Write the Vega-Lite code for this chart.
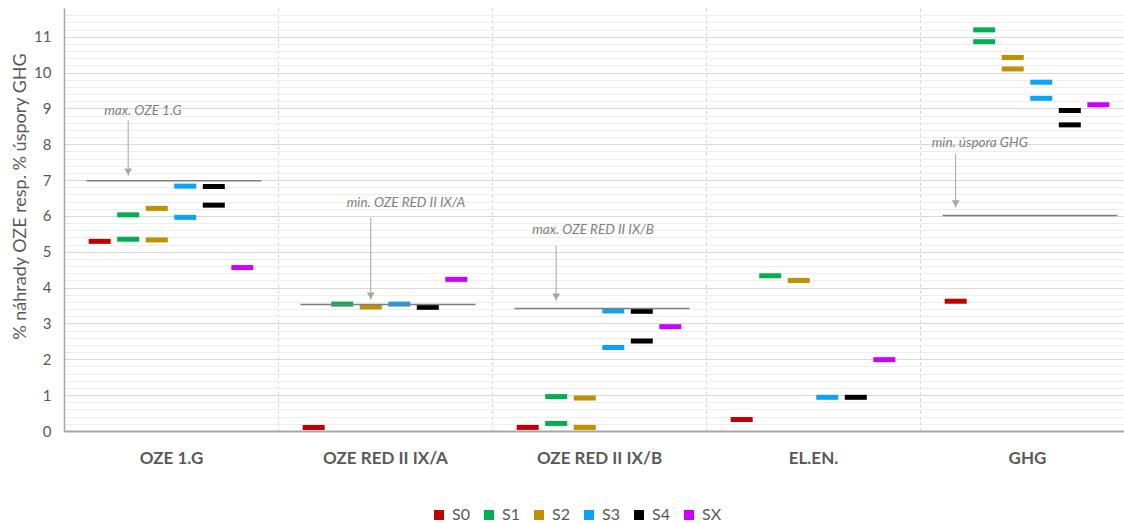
{
  "$schema": "https://vega.github.io/schema/vega-lite/v6.json",
  "width": 1060,
  "height": 423,
  "autosize": "none",
  "padding": {"left": 64, "top": 8, "right": 0, "bottom": 92},
  "background": "white",
  "config": {
    "view": {"stroke": null},
    "font": "Lato",
    "axis": {"labelFont": "Lato", "titleFont": "Lato"},
    "legend": {"labelFont": "Lato"}
  },
  "datasets": {
    "series": [
      {"cat": "OZE 1.G", "s": "S0", "v": 5.29},
      {"cat": "OZE 1.G", "s": "S1", "v": 6.03},
      {"cat": "OZE 1.G", "s": "S1", "v": 5.35},
      {"cat": "OZE 1.G", "s": "S2", "v": 6.21},
      {"cat": "OZE 1.G", "s": "S2", "v": 5.33},
      {"cat": "OZE 1.G", "s": "S3", "v": 6.83},
      {"cat": "OZE 1.G", "s": "S3", "v": 5.96},
      {"cat": "OZE 1.G", "s": "S4", "v": 6.82},
      {"cat": "OZE 1.G", "s": "S4", "v": 6.3},
      {"cat": "OZE 1.G", "s": "SX", "v": 4.56},
      {"cat": "OZE RED II IX/A", "s": "S0", "v": 0.1},
      {"cat": "OZE RED II IX/A", "s": "S1", "v": 3.54},
      {"cat": "OZE RED II IX/A", "s": "S2", "v": 3.46},
      {"cat": "OZE RED II IX/A", "s": "S3", "v": 3.54},
      {"cat": "OZE RED II IX/A", "s": "S4", "v": 3.45},
      {"cat": "OZE RED II IX/A", "s": "SX", "v": 4.23},
      {"cat": "OZE RED II IX/B", "s": "S0", "v": 0.1},
      {"cat": "OZE RED II IX/B", "s": "S1", "v": 0.96},
      {"cat": "OZE RED II IX/B", "s": "S1", "v": 0.21},
      {"cat": "OZE RED II IX/B", "s": "S2", "v": 0.92},
      {"cat": "OZE RED II IX/B", "s": "S2", "v": 0.1},
      {"cat": "OZE RED II IX/B", "s": "S3", "v": 3.35},
      {"cat": "OZE RED II IX/B", "s": "S3", "v": 2.33},
      {"cat": "OZE RED II IX/B", "s": "S4", "v": 3.34},
      {"cat": "OZE RED II IX/B", "s": "S4", "v": 2.51},
      {"cat": "OZE RED II IX/B", "s": "SX", "v": 2.91},
      {"cat": "EL.EN.", "s": "S0", "v": 0.32},
      {"cat": "EL.EN.", "s": "S1", "v": 4.33},
      {"cat": "EL.EN.", "s": "S2", "v": 4.2},
      {"cat": "EL.EN.", "s": "S3", "v": 0.94},
      {"cat": "EL.EN.", "s": "S4", "v": 0.94},
      {"cat": "EL.EN.", "s": "SX", "v": 1.99},
      {"cat": "GHG", "s": "S0", "v": 3.62},
      {"cat": "GHG", "s": "S1", "v": 11.19},
      {"cat": "GHG", "s": "S1", "v": 10.86},
      {"cat": "GHG", "s": "S2", "v": 10.42},
      {"cat": "GHG", "s": "S2", "v": 10.1},
      {"cat": "GHG", "s": "S3", "v": 9.73},
      {"cat": "GHG", "s": "S3", "v": 9.28},
      {"cat": "GHG", "s": "S4", "v": 8.94},
      {"cat": "GHG", "s": "S4", "v": 8.54},
      {"cat": "GHG", "s": "SX", "v": 9.1}
    ],
    "limits": [
      {"cat": "OZE 1.G", "limit": 6.98},
      {"cat": "OZE RED II IX/A", "limit": 3.53},
      {"cat": "OZE RED II IX/B", "limit": 3.42},
      {"cat": "GHG", "limit": 6.01}
    ],
    "notes": [
      {"cat": "OZE 1.G", "s": "S1", "label": "max. OZE 1.G", "ty": 8.94, "a1": 8.66, "a2": 7.12},
      {"cat": "OZE RED II IX/A", "s": "S2", "label": "min. OZE RED II IX/A", "ty": 6.37, "a1": 5.95, "a2": 3.66},
      {"cat": "OZE RED II IX/B", "s": "S1", "label": "max. OZE RED II IX/B", "ty": 5.61, "a1": 5.17, "a2": 3.63},
      {"cat": "GHG", "s": "S0", "label": "min. úspora GHG", "ty": 8.04, "a1": 7.74, "a2": 6.23}
    ]
  },
  "encoding": {
    "x": {
      "field": "cat",
      "type": "nominal",
      "sort": ["OZE 1.G", "OZE RED II IX/A", "OZE RED II IX/B", "EL.EN.", "GHG"],
      "scale": {"range": [0, 1070], "paddingInner": 0, "paddingOuter": 0},
      "axis": {
        "title": null,
        "labelAngle": 0,
        "labelFontSize": 17,
        "labelFontWeight": "bold",
        "labelColor": "#595959",
        "labelPadding": 19,
        "ticks": false,
        "tickBand": "extent",
        "grid": true,
        "gridColor": "#d0d0d0",
        "gridDash": [3, 3],
        "gridWidth": 1,
        "domainColor": "#a6a6a6",
        "domainWidth": 2
      }
    }
  },
  "layer": [
    {
      "data": {"name": "series"},
      "mark": {"type": "tick", "size": 22, "thickness": 5, "opacity": 1},
      "encoding": {
        "xOffset": {
          "field": "s",
          "type": "nominal",
          "sort": ["S0", "S1", "S2", "S3", "S4", "SX"],
          "scale": {"paddingInner": 0, "paddingOuter": 0.75}
        },
        "y": {
          "field": "v",
          "type": "quantitative",
          "scale": {"domain": [0, 11.8], "nice": false, "zero": true},
          "axis": {
            "title": "% náhrady OZE  resp. % úspory GHG",
            "titleFontSize": 18,
            "titleFontWeight": "normal",
            "titleColor": "#595959",
            "titleAngle": 270,
            "titleAlign": "center",
            "titleBaseline": "middle",
            "titleX": -44,
            "titleY": 188,
            "tickCount": 200,
            "values": [0, 0.2, 0.4, 0.6, 0.8, 1, 1.2, 1.4, 1.6, 1.8, 2, 2.2, 2.4, 2.6, 2.8, 3, 3.2, 3.4, 3.6, 3.8, 4, 4.2, 4.4, 4.6, 4.8, 5, 5.2, 5.4, 5.6, 5.8, 6, 6.2, 6.4, 6.6, 6.8, 7, 7.2, 7.4, 7.6, 7.8, 8, 8.2, 8.4, 8.6, 8.8, 9, 9.2, 9.4, 9.6, 9.8, 10, 10.2, 10.4, 10.6, 10.8, 11, 11.2, 11.4, 11.6],
            "labelExpr": "datum.value % 1 === 0 ? format(datum.value, 'd') : ''",
            "labelFontSize": 15,
            "labelColor": "#595959",
            "labelPadding": 13,
            "labelOverlap": false,
            "ticks": false,
            "grid": true,
            "gridColor": {"condition": {"test": "datum.value % 1 === 0", "value": "#d9d9d9"}, "value": "#eeeeee"},
            "gridWidth": 1,
            "domainColor": "#a6a6a6",
            "domainWidth": 1.5
          }
        },
        "color": {
          "field": "s",
          "type": "nominal",
          "scale": {
            "domain": ["S0", "S1", "S2", "S3", "S4", "SX"],
            "range": ["#c00000", "#00b050", "#bf9000", "#0ba3f5", "#000000", "#cc00ff"]
          },
          "legend": {
            "title": null,
            "orient": "none",
            "direction": "horizontal",
            "legendX": 367,
            "legendY": 499,
            "symbolType": "square",
            "symbolSize": 100,
            "symbolStrokeWidth": 0,
            "labelFontSize": 16,
            "labelColor": "#595959",
            "labelOffset": 5,
            "columnPadding": 11
          }
        }
      }
    },
    {
      "data": {"name": "limits"},
      "mark": {"type": "tick", "size": 175, "thickness": 1.5, "color": "#7f7f7f", "opacity": 1, "xOffset": 3},
      "encoding": {
        "y": {"field": "limit", "type": "quantitative"}
      }
    },
    {
      "data": {"name": "notes"},
      "mark": {"type": "rule", "color": "#a6a6a6", "strokeWidth": 1},
      "encoding": {
        "xOffset": {"field": "s", "type": "nominal"},
        "y": {"field": "a1", "type": "quantitative"},
        "y2": {"field": "a2"}
      }
    },
    {
      "data": {"name": "notes"},
      "mark": {"type": "point", "shape": "triangle-down", "filled": true, "size": 60, "color": "#a6a6a6", "opacity": 1, "yOffset": -4},
      "encoding": {
        "xOffset": {"field": "s", "type": "nominal"},
        "y": {"field": "a2", "type": "quantitative"}
      }
    },
    {
      "data": {"name": "notes"},
      "mark": {"type": "text", "align": "left", "baseline": "middle", "dx": -24, "fontSize": 13.5, "fontStyle": "italic", "color": "#808080"},
      "encoding": {
        "xOffset": {"field": "s", "type": "nominal"},
        "y": {"field": "ty", "type": "quantitative"},
        "text": {"field": "label"}
      }
    }
  ]
}
